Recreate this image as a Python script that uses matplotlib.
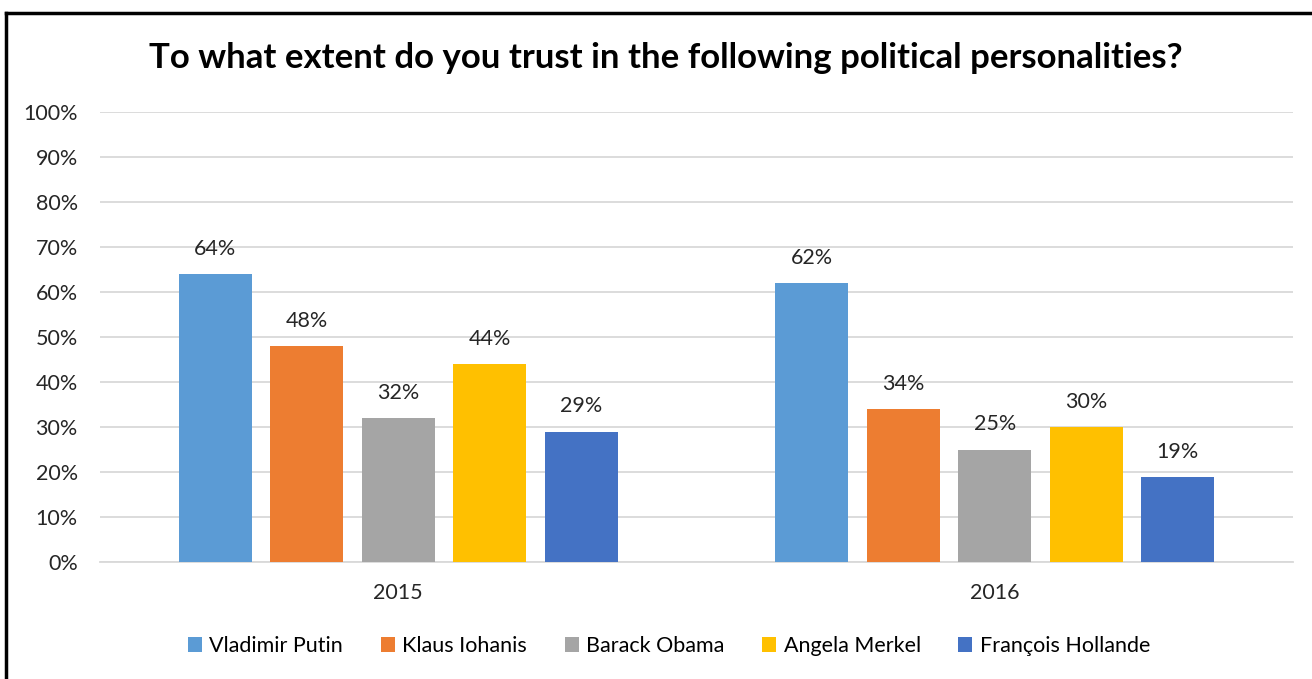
import matplotlib
matplotlib.use("Agg")
import matplotlib.pyplot as plt
from matplotlib.lines import Line2D
from matplotlib.patches import Patch
import numpy as np

years = ["2015", "2016"]
people = ["Vladimir Putin", "Klaus Iohanis", "Barack Obama", "Angela Merkel", "François Hollande"]
values = {
    "Vladimir Putin": [64, 62],
    "Klaus Iohanis": [48, 34],
    "Barack Obama": [32, 25],
    "Angela Merkel": [44, 30],
    "François Hollande": [29, 19],
}
colors = ["#5B9BD5", "#ED7D31", "#A5A5A5", "#FFC000", "#4472C4"]
yticks = [0, 10, 20, 30, 40, 50, 60, 70, 80, 90, 100]

plt.rcParams["font.family"] = ["Lato", "DejaVu Sans"]
FS = 15.5

fig = plt.figure(figsize=(13.12, 6.79), dpi=100)
ax = fig.add_axes([100 / 1312, 1 - 562 / 679, 1193 / 1312, 450 / 679])

x = np.arange(len(years))
step = 0.1534
width = 0.122
for i, (name, c) in enumerate(zip(people, colors)):
    pos = x + (i - 2) * step
    bars = ax.bar(pos, values[name], width=width, color=c, zorder=3)
    for b, v in zip(bars, values[name]):
        ax.annotate(f"{v}%", (b.get_x() + b.get_width() / 2, v),
                    xytext=(0, 18), textcoords="offset points",
                    ha="center", va="center", fontsize=FS, color="#262626")

ax.set_xlim(-0.5, 1.5)
ax.set_ylim(0, 100)
ax.set_yticks(yticks)
ax.set_yticklabels([f"{t}%" for t in yticks], fontsize=FS, color="#262626")
ax.set_xticks(x)
ax.set_xticklabels(years, fontsize=FS, color="#262626")
ax.tick_params(axis="both", length=0)
ax.tick_params(axis="y", pad=16)
ax.tick_params(axis="x", pad=15)
ax.grid(axis="y", color="#D9D9D9", linewidth=1.3, zorder=0)
for s in ["top", "right", "left"]:
    ax.spines[s].set_visible(False)
ax.spines["bottom"].set_color("#D9D9D9")
ax.spines["bottom"].set_linewidth(1.3)

fig.text(0.5 * (148 + 1183) / 1312, 1 - 58 / 679,
         "To what extent do you trust in the following political personalities?",
         ha="center", va="center", fontsize=25, fontweight="bold", color="black")

handles = [Patch(facecolor=c, edgecolor="none") for c in colors]
fig.legend(handles, people, loc="center", bbox_to_anchor=(669 / 1312, 1 - 646 / 679),
           ncol=5, frameon=False, fontsize=FS, handlelength=0.65, handleheight=0.65,
           handletextpad=0.35, columnspacing=1.75)

# chart frame
fig.add_artist(Line2D([6 / 1312, 1], [1 - 13 / 679, 1 - 13 / 679],
                      transform=fig.transFigure, color="black", linewidth=2.5))
fig.add_artist(Line2D([6 / 1312, 6 / 1312], [0, 1 - 13 / 679],
                      transform=fig.transFigure, color="black", linewidth=2.5))

fig.savefig("out.png", dpi=100, facecolor="white")
